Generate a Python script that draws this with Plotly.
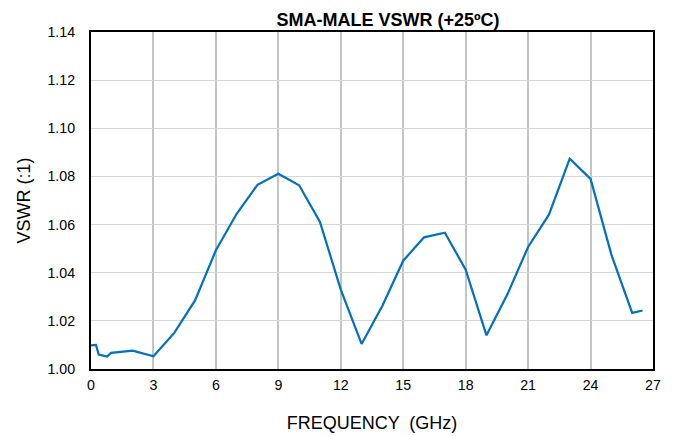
import plotly.graph_objects as go

freq_ghz = [0, 0.24, 0.37, 0.77, 0.97, 2, 3, 4, 5, 6, 7, 8, 9, 10, 11, 12, 13, 14, 15,
            16, 17, 18, 19, 20, 21, 22, 23, 24, 25, 26, 26.5]
vswr = [1.0098, 1.0100, 1.0060, 1.0052, 1.0067, 1.0076, 1.0053, 1.0150, 1.0285, 1.0493,
        1.0645, 1.0765, 1.0811, 1.0763, 1.0611, 1.0330, 1.0104, 1.0263, 1.0450, 1.0547,
        1.0566, 1.0413, 1.0140, 1.0309, 1.0507, 1.0641, 1.0874, 1.0790, 1.0475, 1.0233,
        1.0243]

x_ticks = [0, 3, 6, 9, 12, 15, 18, 21, 24, 27]
y_ticks = [1.00, 1.02, 1.04, 1.06, 1.08, 1.10, 1.12, 1.14]

fig = go.Figure()
fig.add_trace(go.Scatter(x=freq_ghz, y=vswr, mode="lines",
                         line=dict(color="#0070C0", width=2.2), showlegend=False))

font_family = "Liberation Sans, Arial, sans-serif"
fig.update_layout(
    width=661, height=428,
    margin=dict(l=83, r=16, t=24, b=67, autoexpand=False),
    paper_bgcolor="white", plot_bgcolor="white",
    font=dict(family=font_family, color="#000000", size=14),
    title=dict(text="<b>SMA-MALE VSWR (+25ºC)</b>", x=0.575, xanchor="center",
               y=1 - 11.5 / 428, yanchor="middle", automargin=False,
               font=dict(size=18, family=font_family)),
)
fig.update_xaxes(
    range=[0, 27], tickvals=x_ticks, ticktext=[str(v) for v in x_ticks],
    showgrid=True, gridcolor="#C4C4C4", gridwidth=2.4,
    showline=True, linecolor="black", linewidth=2.2, mirror=True,
    ticks="", tickfont=dict(size=14.2), zeroline=False, ticklabelstandoff=2,
    automargin=False,
    title=dict(text="FREQUENCY  (GHz)", font=dict(size=18), standoff=24),
)
fig.update_yaxes(
    range=[1.00, 1.14], tickvals=y_ticks, ticktext=[f"{v:.2f}" for v in y_ticks],
    showgrid=True, gridcolor="#D6D6D6", gridwidth=1.4,
    showline=True, linecolor="black", linewidth=2.2, mirror=True,
    ticks="", tickfont=dict(size=14.2), zeroline=False, ticklabelstandoff=11,
    automargin=False,
    title=dict(text="VSWR (:1)", font=dict(size=18), standoff=12),
)

fig.write_html("out.html")
